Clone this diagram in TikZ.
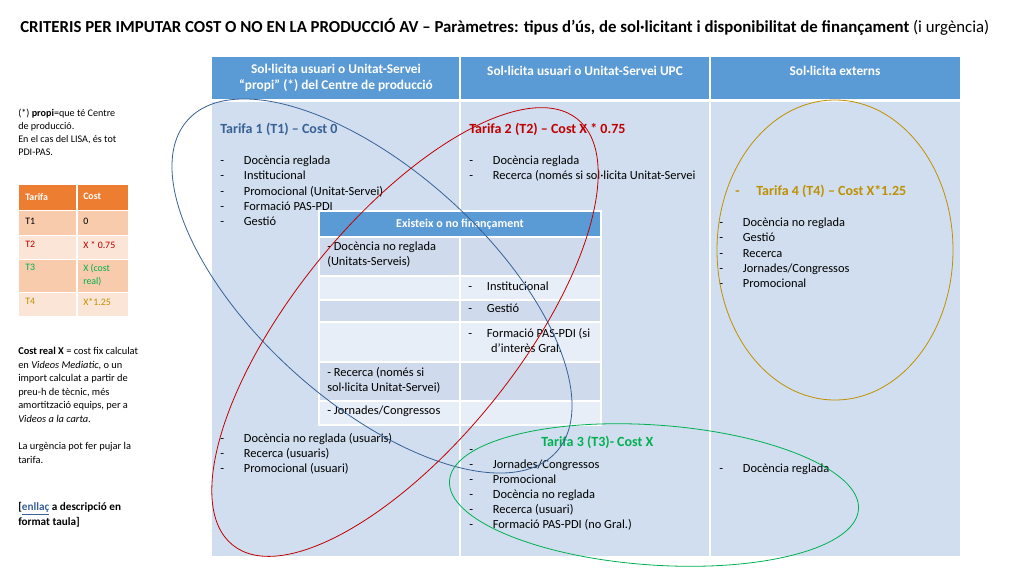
\documentclass[tikz,border=0pt]{standalone}
\usepackage{fontspec}
\setmainfont{Carlito}
\usetikzlibrary{positioning}
\definecolor{hdrblue}{RGB}{91,155,213}
\definecolor{cellblue}{RGB}{208,222,239}
\definecolor{rowdark}{RGB}{207,218,236}
\definecolor{rowlight}{RGB}{232,238,247}
\definecolor{tforange}{RGB}{237,125,49}
\definecolor{tfdark}{RGB}{248,203,173}
\definecolor{tflight}{RGB}{251,229,214}
\definecolor{tred}{RGB}{192,0,0}
\definecolor{tgreen}{RGB}{0,176,80}
\definecolor{tgold}{RGB}{191,144,0}
\definecolor{lblue}{RGB}{56,97,150}
\tikzset{
  txt/.style={anchor=north west, inner sep=0pt, align=left, font=\fontsize{9.3}{11.3}\selectfont},
  hdr/.style={anchor=center, inner sep=0pt, align=center, text=white, font=\fontsize{10}{12.5}\selectfont\bfseries},
  ttl/.style={anchor=north west, inner sep=0pt, font=\fontsize{10.5}{12}\selectfont\bfseries},
  key/.style={anchor=north west, inner sep=0pt, align=left, font=\fontsize{7.4}{9.5}\selectfont}
}
\begin{document}
\begin{tikzpicture}[x=0.75pt,y=-0.75pt]
\useasboundingbox (0,0) rectangle (1024,576);
% title
\node[anchor=west, inner sep=0pt, font=\fontsize{12.6}{15}\selectfont] (title) at (20,27)
  {\textbf{CRITERIS PER IMPUTAR COST O NO EN LA PRODUCCIÓ AV -- Paràmetres: tipus d’ús, de sol·licitant i disponibilitat de finançament} (i urgència)};

% main table
\foreach \xa/\xb in {212/459,461/709,711/960}{
  \fill[hdrblue] (\xa,57) rectangle (\xb,99);
  \fill[cellblue] (\xa,102) rectangle (\xb,556);
}
\node[hdr] (h1) at (336,78) {Sol·licita usuari o Unitat-Servei\\“propi” (*) del Centre de producció};
\node[hdr] (h2) at (585,71) {Sol·licita usuari o Unitat-Servei UPC};
\node[hdr] (h3) at (835,71) {Sol·licita externs};

% column 1
\node[ttl,text=lblue] (t1) at (220,123) {Tarifa 1 (T1) -- Cost 0};
\node[txt] (c1) at (220,156) {-\hspace{1.6em}Docència reglada\\-\hspace{1.6em}Institucional\\-\hspace{1.6em}Promocional (Unitat-Servei)\\-\hspace{1.6em}Formació PAS-PDI\\-\hspace{1.6em}Gestió};
\node[txt] (c1b) at (220,433) {-\hspace{1.6em}Docència no reglada (usuaris)\\-\hspace{1.6em}Recerca (usuaris)\\-\hspace{1.6em}Promocional (usuari)};
% column 2
\node[ttl,text=tred] (t2) at (469,123) {Tarifa 2 (T2) -- Cost X * 0.75};
\node[txt] (c2) at (469,156) {-\hspace{1.6em}Docència reglada\\-\hspace{1.6em}Recerca (només si sol·licita Unitat-Servei};
\node[ttl,text=tgreen] (t3) at (541,436) {Tarifa 3 (T3)- Cost X};
\node[txt] (c3) at (469,449) {-\\-\hspace{1.6em}Jornades/Congressos\\-\hspace{1.6em}Promocional\\-\hspace{1.6em}Docència no reglada\\-\hspace{1.6em}Recerca (usuari)\\-\hspace{1.6em}Formació PAS-PDI (no Gral.)};
% column 3
\node[ttl,text=tgold] (t4) at (735,185) {-\hspace{1.2em}Tarifa 4 (T4) -- Cost X*1.25};
\node[txt] (c4) at (719,218) {-\hspace{1.6em}Docència no reglada\\-\hspace{1.6em}Gestió\\-\hspace{1.6em}Recerca\\-\hspace{1.6em}Jornades/Congressos\\-\hspace{1.6em}Promocional};
\node[txt] (c4b) at (719,464) {-\hspace{1.6em}Docència reglada};

% inner table
\fill[white] (318,210) rectangle (602,426);
\fill[hdrblue] (320,212) rectangle (600,236);
\foreach \ya/\yb/\cl in {238/275/rowdark,277/299/rowlight,301/321/rowdark,323/361/rowlight,363/400/rowdark,402/424/rowlight}{
  \fill[\cl] (320,\ya) rectangle (459,\yb);
  \fill[\cl] (461,\ya) rectangle (600,\yb);
}
\node[hdr,font=\fontsize{9}{11}\selectfont\bfseries] (ih) at (460,224) {Existeix o no finançament};
\node[txt] (i1) at (327,242) {- Docència no reglada\\(Unitats-Serveis)};
\node[txt] (i2) at (468,282) {-\hspace{1.2em}Institucional};
\node[txt] (i3) at (468,304) {-\hspace{1.2em}Gestió};
\node[txt] (i4) at (468,328) {-\hspace{1.2em}Formació PAS-PDI (si\\\hspace{1.85em}d’interès Gral.};
\node[txt] (i5) at (327,367) {- Recerca (només si\\sol·licita Unitat-Servei)};
\node[txt] (i6) at (327,406) {- Jornades/Congressos};

% ellipses
\draw[lblue,semithick] (372,286) ellipse [x radius=248, y radius=116, rotate=-42];
\draw[tred,semithick] (405,332) ellipse [x radius=274, y radius=112, rotate=51];
\draw[tgreen,semithick] (654,495) ellipse [x radius=205, y radius=70, rotate=-4];
\draw[tgold,semithick] (835,250) ellipse [x radius=118, y radius=150];

% side notes
\node[txt,font=\fontsize{7.6}{9.8}\selectfont] (n1) at (18,109) {(*) \textbf{propi}=que té Centre\\de producció.\\En el cas del LISA, és tot\\PDI-PAS.};
\fill[tforange] (19,185) rectangle (128,210);
\foreach \ya/\yb/\cl in {211/235/tfdark,236/259/tflight,260/292/tfdark,293/316/tflight}{
  \fill[\cl] (19,\ya) rectangle (128,\yb);
}
\draw[white,thick] (77,185) -- (77,316);
\node[key,text=white] (k0) at (25,193) {\bfseries Tarifa};
\node[key,text=white] (k0b) at (83,193) {\bfseries Cost};
\node[key] (k1) at (25,218) {T1};
\node[key] (k1b) at (83,218) {0};
\node[key,text=tred] (k2) at (25,241) {T2};
\node[key,text=tred] (k2b) at (83,241) {X * 0.75};
\node[key,text=tgreen] (k3) at (25,264) {T3};
\node[key,text=tgreen] (k3b) at (83,264) {X (cost\\real)};
\node[key,text=tgold] (k4) at (25,298) {T4};
\node[key,text=tgold] (k4b) at (83,298) {X*1.25};
\node[txt,font=\fontsize{7.8}{10.2}\selectfont] (n2) at (18,347) {\textbf{Cost real X} = cost fix calculat\\en \textit{Videos Mediatic}, o un\\import calculat a partir de\\preu-h de tècnic, més\\amortització equips, per a\\\textit{Videos a la carta}.\\[10.2pt]La urgència pot fer pujar la\\tarifa.};
\node[txt,font=\fontsize{8.4}{11.5}\selectfont\bfseries] (n3) at (18,502) {[\textcolor{lblue}{\underline{enllaç}} a descripció en\\format taula]};
\end{tikzpicture}
\end{document}
